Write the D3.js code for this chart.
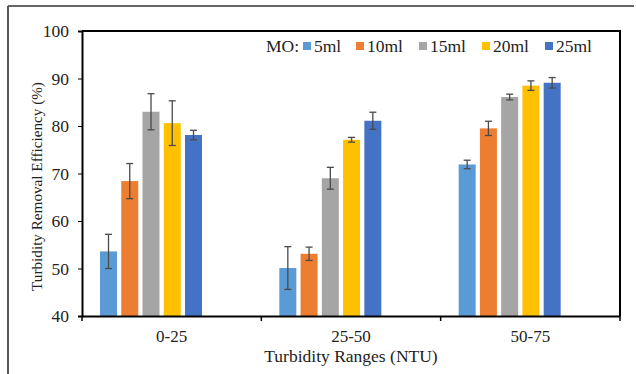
<!DOCTYPE html>
<html>
<head>
<meta charset="utf-8">
<script src="https://cdn.jsdelivr.net/npm/d3@7"></script>
<style>
  body { margin: 0; background: #fff; }
  text { font-family: "Liberation Serif", "Times New Roman", serif; fill: #222; }
</style>
</head>
<body>
<div id="chart"></div>
<script>
// chart data
const ranges = ['0-25', '25-50', '50-75'];
const doses = ['5ml', '10ml', '15ml', '20ml', '25ml'];
const colors = ['#5b9bd5', '#ed7d31', '#a5a5a5', '#ffc000', '#4472c4'];
// efficiency per dose, one entry per range
const values = [
    [53.6, 50.1, 71.9],
    [68.4, 53.1, 79.5],
    [83.0, 69.0, 86.1],
    [80.6, 77.1, 88.5],
    [78.1, 81.1, 89.1]
];
const errors = [
    [3.6, 4.5, 0.9],
    [3.7, 1.4, 1.5],
    [3.8, 2.3, 0.6],
    [4.7, 0.5, 1.0],
    [1.0, 1.8, 1.1]
];
const yTicks = [40, 50, 60, 70, 80, 90, 100];

const width = 636;
const height = 374;
const margin = { top: 31, right: 16, bottom: 58, left: 82 };
const w = width - margin.left - margin.right;
const h = height - margin.top - margin.bottom;

const root = d3.select("#chart")
    .append("svg")
    .attr("width", width)
    .attr("height", height);

// outer frame (only top and left edges show)
root.append("line").attr("x1", 8).attr("x2", 634).attr("y1", 6).attr("y2", 6)
    .attr("stroke", "#333").attr("stroke-width", 1.5);
root.append("line").attr("x1", 8).attr("x2", 8).attr("y1", 6).attr("y2", 374)
    .attr("stroke", "#555").attr("stroke-width", 2);

const svg = root.append("g")
    .attr("transform", `translate(${margin.left}, ${margin.top})`);

const xScale = d3.scaleBand()
    .domain(ranges)
    .range([0, w]);

// bars sit left of the band centre, as in the original
const xInner = d3.scaleBand()
    .domain(doses)
    .range([18, 120])
    .paddingInner(0.2);

const yScale = d3.scaleLinear()
    .domain([40, 100])
    .range([h, 0]);

const rows = [];
doses.forEach((d, i) => {
    ranges.forEach((r, j) => {
        rows.push({ dose: d, range: r, value: values[i][j], err: errors[i][j], color: colors[i] });
    });
});

// bars
svg.selectAll(".bar")
    .data(rows)
    .enter()
    .append("rect")
    .attr("class", "bar")
    .attr("x", d => xScale(d.range) + xInner(d.dose))
    .attr("y", d => yScale(d.value))
    .attr("width", xInner.bandwidth())
    .attr("height", d => h - yScale(d.value))
    .attr("fill", d => d.color);

// error bars
const errG = svg.selectAll(".err")
    .data(rows)
    .enter()
    .append("g")
    .attr("class", "err")
    .attr("stroke", "#4a4a4a")
    .attr("stroke-width", 1.3);

errG.append("line")
    .attr("x1", d => xScale(d.range) + xInner(d.dose) + xInner.bandwidth() / 2)
    .attr("x2", d => xScale(d.range) + xInner(d.dose) + xInner.bandwidth() / 2)
    .attr("y1", d => yScale(d.value + d.err))
    .attr("y2", d => yScale(d.value - d.err));

[1, -1].forEach(s => {
    errG.append("line")
        .attr("x1", d => xScale(d.range) + xInner(d.dose) + xInner.bandwidth() / 2 - 3.5)
        .attr("x2", d => xScale(d.range) + xInner(d.dose) + xInner.bandwidth() / 2 + 3.5)
        .attr("y1", d => yScale(d.value + s * d.err))
        .attr("y2", d => yScale(d.value + s * d.err));
});

// plot box top and right
svg.append("path")
    .attr("d", `M0,0H${w}V${h}`)
    .attr("fill", "none")
    .attr("stroke", "#000")
    .attr("stroke-width", 2);

// y axis
const yAxis = svg.append("g")
    .call(d3.axisLeft(yScale).tickValues(yTicks).tickSize(4).tickPadding(9));
yAxis.select(".domain").attr("stroke", "#000").attr("stroke-width", 2);
yAxis.selectAll("text").attr("font-size", 17.5).attr("font-family", "Liberation Serif").attr("fill", "#222");

// x axis: ticks on category boundaries
const xAxis = svg.append("g")
    .attr("transform", `translate(0, ${h})`)
    .call(d3.axisBottom(xScale).tickSize(0).tickPadding(14));
xAxis.select(".domain").attr("stroke", "#000").attr("stroke-width", 2);
xAxis.selectAll("text").attr("font-size", 17).attr("font-family", "Liberation Serif").attr("fill", "#222");
xAxis.selectAll(".bound")
    .data(ranges.concat([null]))
    .enter()
    .append("line")
    .attr("class", "bound")
    .attr("x1", (d, i) => i < ranges.length ? xScale(d) : w)
    .attr("x2", (d, i) => i < ranges.length ? xScale(d) : w)
    .attr("y1", 0)
    .attr("y2", 5)
    .attr("stroke", "#000")
    .attr("stroke-width", 1.5);

// axis titles
svg.append("text")
    .attr("x", w / 2)
    .attr("y", h + 46)
    .attr("text-anchor", "middle")
    .attr("font-size", 17.5)
    .text("Turbidity Ranges (NTU)");

svg.append("text")
    .attr("transform", `translate(-40, ${h / 2 + 13}) rotate(-90)`)
    .attr("text-anchor", "middle")
    .attr("font-size", 15.2)
    .text("Turbidity Removal Efficiency (%)");

// legend
const legendX = [221, 274, 337, 400, 463];
svg.append("text")
    .attr("x", 184)
    .attr("y", 21)
    .attr("font-size", 17.5)
    .text("MO:");
const leg = svg.selectAll(".leg")
    .data(doses)
    .enter()
    .append("g")
    .attr("class", "leg")
    .attr("transform", (d, i) => `translate(${legendX[i]}, 0)`);
leg.append("rect")
    .attr("x", 0)
    .attr("y", 11)
    .attr("width", 8)
    .attr("height", 8)
    .attr("fill", (d, i) => colors[i]);
leg.append("text")
    .attr("x", 11)
    .attr("y", 21)
    .attr("font-size", 17.5)
    .text(d => d);
</script>
</body>
</html>
